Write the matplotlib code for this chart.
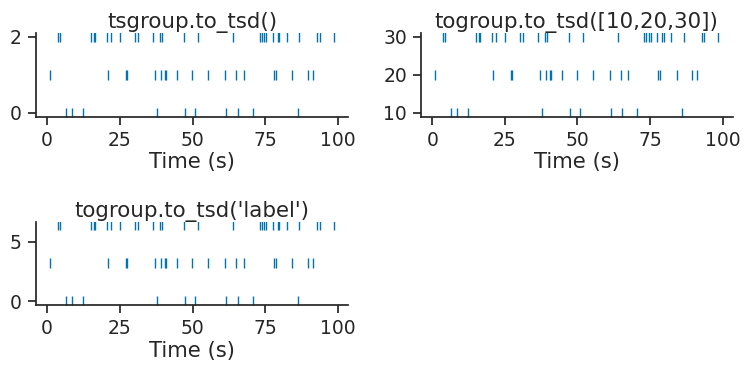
import numpy as np
import matplotlib
matplotlib.use('Agg')
import matplotlib.pyplot as plt

# spike times (s) for the three units
unit0 = [6.5, 8.5, 12.4, 37.8, 47.4, 50.8, 61.5, 65.5, 70.6, 86.2]
unit1 = [1.0, 21.0, 27.1, 27.4, 37.1, 39.3, 40.5, 40.8, 44.6, 49.7, 55.3,
         61.1, 64.9, 67.5, 77.9, 78.5, 84.2, 89.6, 91.3]
unit2 = [3.8, 4.4, 15.1, 16.2, 16.6, 20.6, 22.0, 25.1, 30.3, 31.3, 36.5,
         38.7, 39.4, 47.2, 51.8, 63.9, 73.1, 73.8, 74.5, 75.2, 77.5, 79.3,
         79.7, 82.4, 86.6, 92.8, 93.7, 98.6]

index_values = [0, 1, 2]
custom_values = [10, 20, 30]
label_values = [0, 3.2, 6.4]

titles = ['tsgroup.to_tsd()', 'togroup.to_tsd([10,20,30])', "togroup.to_tsd('label')"]

dark = '#262626'
blue = '#0173b2'
plt.rcParams.update({
    'font.family': 'DejaVu Sans',
    'text.color': dark,
    'axes.edgecolor': dark,
    'axes.labelcolor': dark,
    'xtick.color': dark,
    'ytick.color': dark,
    'axes.linewidth': 1.25,
    'xtick.major.width': 1.25,
    'ytick.major.width': 1.25,
    'xtick.major.size': 6,
    'ytick.major.size': 6,
})

fig = plt.figure(figsize=(7.53, 3.73), dpi=100)
positions = [
    [0.0474, 0.687, 0.4152, 0.224],
    [0.559, 0.687, 0.414, 0.224],
    [0.0474, 0.182, 0.4152, 0.224],
]

units = [unit0, unit1, unit2]
yvals = [index_values, custom_values, label_values]
yticks = [[0, 2], [10, 20, 30], [0, 5]]

for k in range(3):
    ax = fig.add_axes(positions[k])
    for u, y in zip(units, yvals[k]):
        ax.plot(u, np.full(len(u), y), '|', color=blue, markersize=7, markeredgewidth=1.0)
    ax.set_title(titles[k], fontsize=15.4, pad=3)
    ax.set_xlabel('Time (s)', fontsize=15.2, labelpad=2)
    ax.set_xticks([0, 25, 50, 75, 100])
    ax.set_yticks(yticks[k])
    ax.tick_params(labelsize=13.5, pad=4)
    ax.spines['top'].set_visible(False)
    ax.spines['right'].set_visible(False)

fig.savefig('out.png', dpi=100)
